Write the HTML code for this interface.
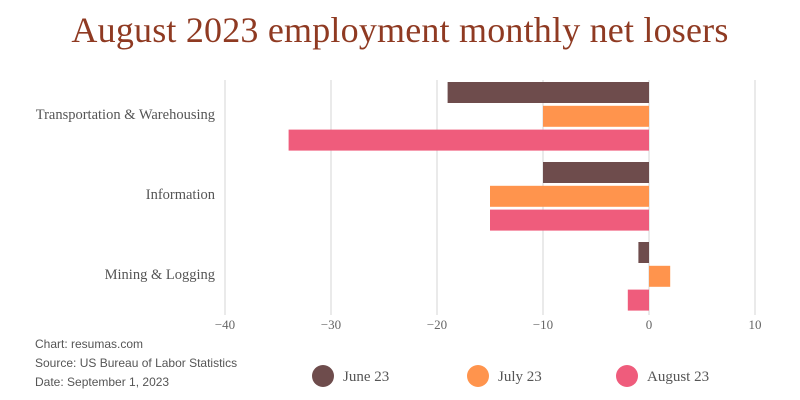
<!DOCTYPE html>
<html><head><meta charset="utf-8"><style>
body{margin:0;background:#fff;width:800px;height:400px;overflow:hidden;font-family:"Liberation Serif",serif}
#t{position:absolute;top:9px;left:0;width:800px;text-align:center;font-size:36px;color:#8f3a22;letter-spacing:0.2px}
.note{position:absolute;left:35px;font-family:"Liberation Sans",sans-serif;font-size:12px;color:#555}
</style></head><body>
<div id="t">August 2023 employment monthly net losers</div>
<div class="note" style="top:337px">Chart: resumas.com</div>
<div class="note" style="top:356px">Source: US Bureau of Labor Statistics</div>
<div class="note" style="top:375px">Date: September 1, 2023</div>
<svg id="c" width="800" height="400" style="position:absolute;top:0;left:0"></svg>
<script>
const categories=["Transportation & Warehousing","Information","Mining & Logging"];
const june=[-19,-10,-1];
const july=[-10,-15,2];
const august=[-34,-15,-2];
const ticks=[-40,-30,-20,-10,0,10];
const seriesNames=["June 23","July 23","August 23"];
const colors=["#6e4c4c","#ff944d","#ef5c7c"];
const svg=document.getElementById('c');const NS="http://www.w3.org/2000/svg";
const x=v=>649+v*10.6;
function mk(t,a,p){const e=document.createElementNS(NS,t);for(const k in a)e.setAttribute(k,a[k]);(p||svg).appendChild(e);return e;}
ticks.forEach(v=>{
 const l=mk('line',{x1:x(v),x2:x(v),y1:80,y2:315,stroke:'#e3e3e3','stroke-width':1.5});
 
 
 const t=mk('text',{x:x(v),y:329,'text-anchor':'middle','font-size':13,fill:'#666','font-family':'Liberation Serif'});
 t.textContent=(v<0?'\u2212'+(-v):v);
 
 
});
const series=[june,july,august];
categories.forEach((c,i)=>{
 const g0=82+i*80;
 series.forEach((s,j)=>{
  const v=s[i];const y=g0+j*23.8;
  const r=mk('rect',{x:Math.min(x(v),x(0)),y:y,width:Math.abs(x(v)-x(0)),height:21,fill:colors[j]});
  
  
 });
 const t=mk('text',{x:215,y:g0+37,'text-anchor':'end','font-size':14.5,fill:'#555','font-family':'Liberation Serif'});
 t.textContent=c;
 
 
});
const lx=[323,478,627];
seriesNames.forEach((n,j)=>{
 const e=mk('ellipse',{cx:lx[j],cy:376,rx:11,ry:11,fill:colors[j]});
 
 
 const t=mk('text',{x:lx[j]+20,y:381,'font-size':15,fill:'#555','font-family':'Liberation Serif'});
 t.textContent=n;
 
 
});
</script>
</body></html>
